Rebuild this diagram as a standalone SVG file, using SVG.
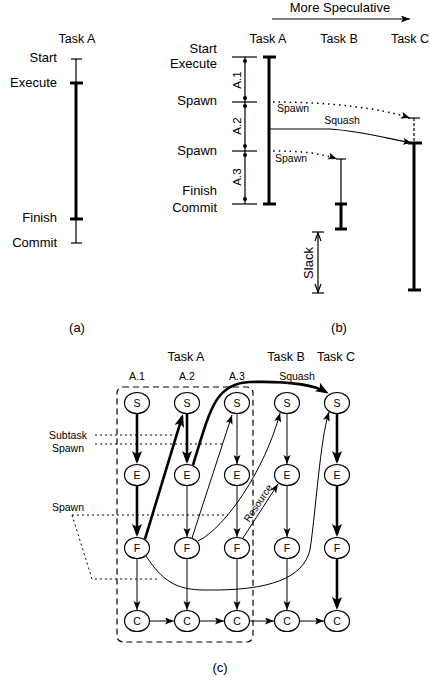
<svg xmlns="http://www.w3.org/2000/svg" width="430" height="680" viewBox="0 0 430 680">
<defs>
<marker id="a" markerUnits="userSpaceOnUse" markerWidth="10" markerHeight="8" refX="9" refY="3.5" orient="auto"><path d="M0,0 L9,3.5 L0,7 L2,3.5z" fill="#000"/></marker>
<marker id="at" markerUnits="userSpaceOnUse" markerWidth="14" markerHeight="11" refX="10" refY="5" orient="auto"><path d="M0,0 L13,5 L0,10 L3,5z" fill="#000"/></marker>
<style>
text{font-family:"Liberation Sans",Arial,Helvetica,sans-serif;fill:#000}
.h{font-size:12.5px;text-anchor:middle}
.l{font-size:13px;text-anchor:end}
.s{font-size:10.5px}
.n{font-size:10.5px;text-anchor:middle}
.cap{font-size:13px;text-anchor:middle}
.thin{stroke:#000;stroke-width:1.2;fill:none}
.thick{stroke:#000;stroke-width:3;fill:none}
.dot{stroke:#000;stroke-width:1.5;stroke-dasharray:1.5 4;fill:none}
.ann{stroke:#000;stroke-width:1;stroke-dasharray:2 3;fill:none}
.e1{stroke:#000;stroke-width:1;fill:none}
.e2{stroke:#000;stroke-width:2.6;fill:none}
.node ellipse{fill:#fff;stroke:#000;stroke-width:1.2}
</style>
</defs>

<!-- (a) -->
<g id="panel-a">
<text class="h" x="77" y="43">Task A</text>
<text class="l" x="57" y="62">Start</text>
<text class="l" x="57" y="87">Execute</text>
<text class="l" x="57" y="222">Finish</text>
<text class="l" x="57" y="247">Commit</text>
<line class="thin" x1="76" y1="59" x2="76" y2="243"/>
<line class="thick" x1="76" y1="83" x2="76" y2="219"/>
<line class="thin" x1="71" y1="59" x2="82" y2="59"/>
<line class="thick" x1="70" y1="83" x2="83" y2="83"/>
<line class="thick" x1="70" y1="219" x2="83" y2="219"/>
<line class="thin" x1="71" y1="243" x2="82" y2="243"/>
<text class="cap" x="77" y="332">(a)</text>
</g>

<!-- (b) -->
<g id="panel-b">
<text class="cap" x="340" y="12">More Speculative</text>
<line x1="272" y1="19" x2="410" y2="19" stroke="#000" stroke-width="1.2" marker-end="url(#a)"/>
<text class="h" x="268" y="43">Task A</text>
<text class="h" x="339" y="43">Task B</text>
<text class="h" x="410" y="43">Task C</text>
<text class="l" x="217" y="52.5">Start</text>
<text class="l" x="217" y="67.5">Execute</text>
<text class="l" x="217" y="105">Spawn</text>
<text class="l" x="217" y="155">Spawn</text>
<text class="l" x="217" y="195">Finish</text>
<text class="l" x="217" y="212">Commit</text>
<g id="dims">
<line class="thin" x1="232" y1="57" x2="257" y2="57"/>
<line class="thin" x1="232" y1="102" x2="257" y2="102"/>
<line class="thin" x1="232" y1="151" x2="257" y2="151"/>
<line class="thin" x1="232" y1="204" x2="257" y2="204"/>
<line class="thin" x1="245" y1="57" x2="245" y2="204"/>
<circle cx="245" cy="61" r="2"/><circle cx="245" cy="98" r="2"/>
<circle cx="245" cy="106" r="2"/><circle cx="245" cy="146" r="2"/>
<circle cx="245" cy="155" r="2"/><circle cx="245" cy="199" r="2"/>
<text style="font-size:11.5px;text-anchor:middle" transform="translate(241,80) rotate(-90)">A.1</text>
<text style="font-size:11.5px;text-anchor:middle" transform="translate(241,126) rotate(-90)">A.2</text>
<text style="font-size:11.5px;text-anchor:middle" transform="translate(241,177) rotate(-90)">A.3</text>
</g>
<g id="bar-a">
<line class="thick" x1="269" y1="57" x2="269" y2="204"/>
<line class="thick" x1="263" y1="57" x2="276" y2="57"/>
<line class="thick" x1="263" y1="204" x2="276" y2="204"/>
</g>
<g id="bar-b">
<line class="thin" x1="341" y1="159" x2="341" y2="204"/>
<line class="thick" x1="341" y1="204" x2="341" y2="229"/>
<line class="thin" x1="336" y1="159" x2="346" y2="159"/>
<line class="thick" x1="335" y1="204" x2="347" y2="204"/>
<line class="thick" x1="335" y1="229" x2="347" y2="229"/>
</g>
<g id="bar-c">
<line x1="414" y1="118" x2="414" y2="143" stroke="#000" stroke-width="1.2" stroke-dasharray="3 2"/>
<line class="thin" x1="408" y1="118" x2="420" y2="118"/>
<line class="thick" x1="414" y1="143" x2="414" y2="290"/>
<line class="thick" x1="408" y1="143" x2="422" y2="143"/>
<line class="thick" x1="408" y1="290" x2="421" y2="290"/>
</g>
<g id="b-connectors">
<path class="dot" d="M273,102 C330,102 380,108 410,118" marker-end="url(#a)"/>
<path class="dot" d="M273,151 C300,151 320,153 337,159" marker-end="url(#a)"/>
<path class="thin" d="M270,129 L330,129 C360,131 385,138 412,143" marker-end="url(#a)"/>
<text class="s" x="277" y="112">Spawn</text>
<text class="s" x="342" y="124" text-anchor="middle">Squash</text>
<text class="s" x="275" y="162">Spawn</text>
</g>
<g id="slack">
<line class="thin" x1="318" y1="232" x2="318" y2="293"/>
<line class="thin" x1="312" y1="232" x2="324" y2="232"/>
<line class="thin" x1="312" y1="293" x2="324" y2="293"/>
<path class="thin" d="M315,241 L318,233 L321,241 M315,284 L318,292 L321,284"/>
<text style="font-size:13px;text-anchor:middle" transform="translate(313,263) rotate(-90)">Slack</text>
</g>
<text class="cap" x="339" y="332">(b)</text>
</g>

<!-- (c) -->
<text class="h" x="186" y="361">Task A</text>
<text class="h" x="286" y="361">Task B</text>
<text class="h" x="336" y="361">Task C</text>
<text class="n" x="137" y="380">A.1</text>
<text class="n" x="187" y="380">A.2</text>
<text class="n" x="237" y="380">A.3</text>
<text class="n" x="297" y="380">Squash</text>
<text class="s" x="68" y="439" text-anchor="middle">Subtask</text>
<text class="s" x="68" y="452" text-anchor="middle">Spawn</text>
<text class="s" x="68" y="511" text-anchor="middle">Spawn</text>
<rect x="117" y="387" width="136" height="255" rx="6" fill="none" stroke="#000" stroke-width="1.2" stroke-dasharray="6 4"/>

<g id="connectors">
<line class="e2" x1="137" y1="414" x2="137" y2="461" marker-end="url(#at)"/>
<line class="e2" x1="187" y1="414" x2="187" y2="461" marker-end="url(#at)"/>
<line class="e1" x1="237" y1="414" x2="237" y2="464" marker-end="url(#a)"/>
<line class="e1" x1="287" y1="414" x2="287" y2="464" marker-end="url(#a)"/>
<line class="e2" x1="337" y1="414" x2="337" y2="461" marker-end="url(#at)"/>
<line class="e2" x1="137" y1="486" x2="137" y2="534" marker-end="url(#at)"/>
<line class="e1" x1="187" y1="486" x2="187" y2="537" marker-end="url(#a)"/>
<line class="e1" x1="237" y1="486" x2="237" y2="537" marker-end="url(#a)"/>
<line class="e1" x1="287" y1="486" x2="287" y2="537" marker-end="url(#a)"/>
<line class="e2" x1="337" y1="486" x2="337" y2="534" marker-end="url(#at)"/>
<line class="e1" x1="137" y1="559" x2="137" y2="610" marker-end="url(#a)"/>
<line class="e1" x1="187" y1="559" x2="187" y2="610" marker-end="url(#a)"/>
<line class="e1" x1="237" y1="559" x2="237" y2="610" marker-end="url(#a)"/>
<line class="e1" x1="287" y1="559" x2="287" y2="610" marker-end="url(#a)"/>
<line class="e2" x1="337" y1="559" x2="337" y2="607" marker-end="url(#at)"/>
<line class="e1" x1="150" y1="621" x2="174" y2="621" marker-end="url(#a)"/>
<line class="e1" x1="200" y1="621" x2="224" y2="621" marker-end="url(#a)"/>
<line class="e1" x1="250" y1="621" x2="274" y2="621" marker-end="url(#a)"/>
<line class="e1" x1="300" y1="621" x2="324" y2="621" marker-end="url(#a)"/>
<line class="e2" x1="145" y1="539" x2="182.1" y2="416.9" marker-end="url(#at)"/>
<line class="e1" x1="192" y1="538" x2="232" y2="415" marker-end="url(#a)"/>
<path class="e2" d="M193,465 C210,410 215,383 250,382 C290,381 314,385 326,392" marker-end="url(#at)"/>
<path class="e1" d="M198,541 C225,528 265,470 280,413" marker-end="url(#a)"/>
<line class="e1" x1="243" y1="538" x2="278" y2="484" marker-end="url(#a)"/>
<path class="e1" d="M146,556 C162,580 175,590 205,590 C270,591 303,578 310,550 C316,510 320,440 329,412" marker-end="url(#a)"/>
<text style="font-size:10px;text-anchor:middle" transform="translate(261,505) rotate(-56)">Resource</text>
<path class="ann" d="M95,435 L177,435 M95,444 L222,444 M72,515 L228,515 M72,515 L92,579 L158,579"/>
</g>

<g id="node-a1-s" class="node"><ellipse cx="137" cy="403" rx="12.5" ry="10.5"/><text class="n" x="137" y="407">S</text></g>
<g id="node-a2-s" class="node"><ellipse cx="187" cy="403" rx="12.5" ry="10.5"/><text class="n" x="187" y="407">S</text></g>
<g id="node-a3-s" class="node"><ellipse cx="237" cy="403" rx="12.5" ry="10.5"/><text class="n" x="237" y="407">S</text></g>
<g id="node-b-s" class="node"><ellipse cx="287" cy="403" rx="12.5" ry="10.5"/><text class="n" x="287" y="407">S</text></g>
<g id="node-c-s" class="node"><ellipse cx="337" cy="403" rx="12.5" ry="10.5"/><text class="n" x="337" y="407">S</text></g>
<g id="node-a1-e" class="node"><ellipse cx="137" cy="475" rx="12.5" ry="10.5"/><text class="n" x="137" y="479">E</text></g>
<g id="node-a2-e" class="node"><ellipse cx="187" cy="475" rx="12.5" ry="10.5"/><text class="n" x="187" y="479">E</text></g>
<g id="node-a3-e" class="node"><ellipse cx="237" cy="475" rx="12.5" ry="10.5"/><text class="n" x="237" y="479">E</text></g>
<g id="node-b-e" class="node"><ellipse cx="287" cy="475" rx="12.5" ry="10.5"/><text class="n" x="287" y="479">E</text></g>
<g id="node-c-e" class="node"><ellipse cx="337" cy="475" rx="12.5" ry="10.5"/><text class="n" x="337" y="479">E</text></g>
<g id="node-a1-f" class="node"><ellipse cx="137" cy="548" rx="12.5" ry="10.5"/><text class="n" x="137" y="552">F</text></g>
<g id="node-a2-f" class="node"><ellipse cx="187" cy="548" rx="12.5" ry="10.5"/><text class="n" x="187" y="552">F</text></g>
<g id="node-a3-f" class="node"><ellipse cx="237" cy="548" rx="12.5" ry="10.5"/><text class="n" x="237" y="552">F</text></g>
<g id="node-b-f" class="node"><ellipse cx="287" cy="548" rx="12.5" ry="10.5"/><text class="n" x="287" y="552">F</text></g>
<g id="node-c-f" class="node"><ellipse cx="337" cy="548" rx="12.5" ry="10.5"/><text class="n" x="337" y="552">F</text></g>
<g id="node-a1-c" class="node"><ellipse cx="137" cy="621" rx="12.5" ry="10.5"/><text class="n" x="137" y="625">C</text></g>
<g id="node-a2-c" class="node"><ellipse cx="187" cy="621" rx="12.5" ry="10.5"/><text class="n" x="187" y="625">C</text></g>
<g id="node-a3-c" class="node"><ellipse cx="237" cy="621" rx="12.5" ry="10.5"/><text class="n" x="237" y="625">C</text></g>
<g id="node-b-c" class="node"><ellipse cx="287" cy="621" rx="12.5" ry="10.5"/><text class="n" x="287" y="625">C</text></g>
<g id="node-c-c" class="node"><ellipse cx="337" cy="621" rx="12.5" ry="10.5"/><text class="n" x="337" y="625">C</text></g>

<text class="cap" x="220" y="672">(c)</text>
</svg>
